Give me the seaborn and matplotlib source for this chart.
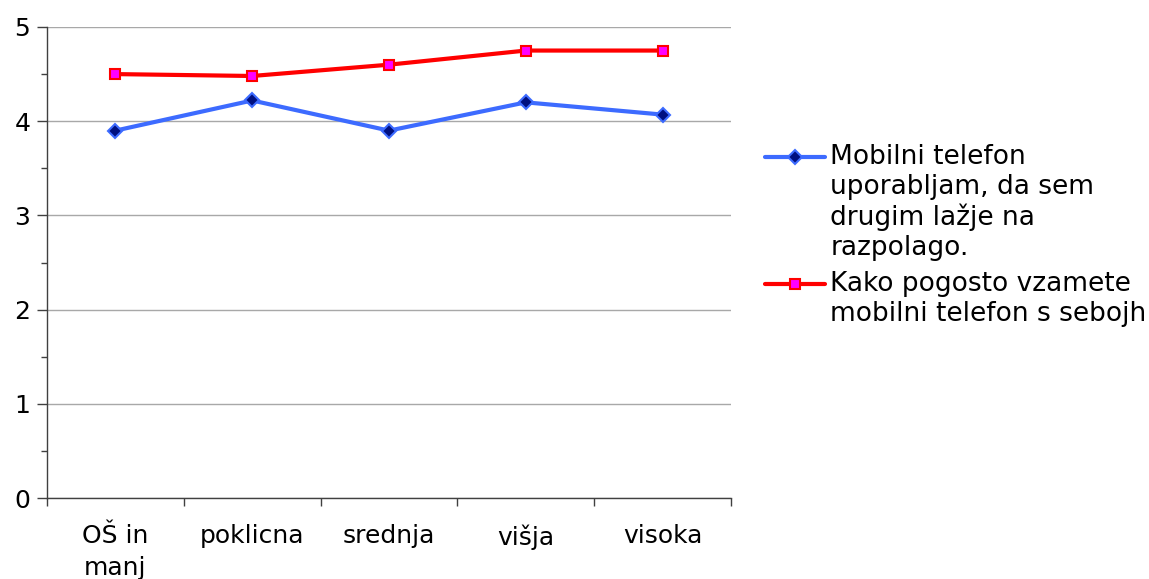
import matplotlib
matplotlib.use("Agg")
import matplotlib.pyplot as plt
import seaborn as sns
import pandas as pd
from matplotlib.ticker import MultipleLocator, FixedLocator
from matplotlib.legend_handler import HandlerLine2D

categories = ["OŠ in\nmanj", "poklicna", "srednja", "višja", "visoka"]
series_blue_name = "Mobilni telefon\nuporabljam, da sem\ndrugim lažje na\nrazpolago."
series_red_name = "Kako pogosto vzamete\nmobilni telefon s sebojh"
blue_values = [3.90, 4.22, 3.90, 4.20, 4.07]
red_values = [4.50, 4.48, 4.60, 4.75, 4.75]

sns.set_theme(style="white")
plt.rcParams['font.family'] = ['DejaVu Sans']
plt.rcParams['text.color'] = 'black'
plt.rcParams['xtick.color'] = 'black'
plt.rcParams['ytick.color'] = 'black'

df = pd.DataFrame({
    "x": list(range(len(categories))) * 2,
    "value": blue_values + red_values,
    "series": [series_blue_name] * len(categories) + [series_red_name] * len(categories),
})

fig = plt.figure(figsize=(11.49, 5.79), dpi=100)
ax = fig.add_axes([47/1149, (579-498)/579, (731-47)/1149, (498-27)/579])

palette = {series_blue_name: "#3D6BFF", series_red_name: "#FF0000"}
sns.lineplot(data=df, x="x", y="value", hue="series", style="series",
             palette=palette, markers={series_blue_name: "D", series_red_name: "s"},
             dashes=False, linewidth=3, markersize=7, ax=ax)

marker_styles = [("#001080", "#3D6BFF"), ("#FF00FF", "#FF0000")]
for line, (face, edge) in zip(ax.get_lines()[:2], marker_styles):
    line.set_markerfacecolor(face)
    line.set_markeredgecolor(edge)
    line.set_markeredgewidth(1.5)

ax.set_xlim(-0.5, len(categories) - 0.5)
ax.set_ylim(0, 5)
ax.set_xticks(range(len(categories)))
ax.set_xticklabels(categories, fontsize=18, linespacing=1.4)
ax.xaxis.set_minor_locator(FixedLocator([i - 0.5 for i in range(len(categories) + 1)]))
ax.tick_params(axis="x", which="major", length=0, pad=19)
ax.tick_params(axis="x", which="minor", length=6, width=1, color="#404040", direction="out", bottom=True)
ax.yaxis.set_major_locator(MultipleLocator(1))
ax.yaxis.set_minor_locator(MultipleLocator(0.5))
ax.tick_params(axis="y", which="major", length=7, width=1, color="#404040", labelsize=18, left=True, pad=5)
ax.tick_params(axis="y", which="minor", length=4, width=1, color="#404040", left=True)
ax.grid(axis="y", which="major", color="#A8A8A8", linewidth=1)
ax.set_axisbelow(True)
for s in ["top", "right"]:
    ax.spines[s].set_visible(False)
for s in ["left", "bottom"]:
    ax.spines[s].set_color("#404040")
    ax.spines[s].set_linewidth(1)
ax.set_xlabel("")
ax.set_ylabel("")

LEG_FS = 19


class TopAlignedHandler(HandlerLine2D):
    def __init__(self, nlines, face, edge, **kw):
        super().__init__(**kw)
        self.nlines = nlines
        self.face = face
        self.edge = edge

    def create_artists(self, legend, orig_handle, xdescent, ydescent, width, height, fontsize, trans):
        artists = super().create_artists(legend, orig_handle, xdescent, ydescent, width, height, fontsize, trans)
        dy = (self.nlines - 1) / 2 * 1.17 * fontsize
        for a in artists:
            a.set_ydata([y + dy for y in a.get_ydata()])
            a.set_markerfacecolor(self.face)
            a.set_markeredgecolor(self.edge)
            a.set_markeredgewidth(1.5)
        return artists


handles, labels = ax.get_legend_handles_labels()
handler_map = {h: TopAlignedHandler(lab.count("\n") + 1, f, e)
               for h, lab, (f, e) in zip(handles, labels, marker_styles)}
ax.legend(handles, labels, loc="upper left", bbox_to_anchor=(1.035, 0.775),
          frameon=False, fontsize=LEG_FS, handlelength=2.25, handletextpad=0.2,
          labelspacing=0.35, borderaxespad=0, handler_map=handler_map)

fig.savefig("out.png", dpi=100)
